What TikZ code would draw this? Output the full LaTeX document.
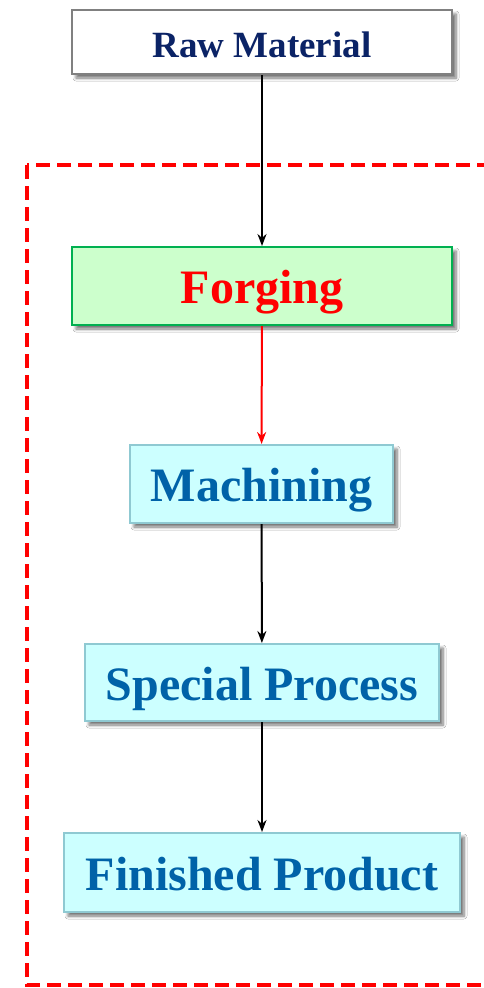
\documentclass[tikz,border=0pt]{standalone}
\usepackage{fontspec}
\setmainfont{Liberation Serif}
\usetikzlibrary{shadows.blur,arrows.meta}
\definecolor{navy}{HTML}{0B2366}
\definecolor{boxblue}{HTML}{0062A8}
\definecolor{cyanfill}{HTML}{CCFFFF}
\definecolor{cyanborder}{HTML}{8FC9D2}
\definecolor{greenfill}{HTML}{CCFFCC}
\definecolor{greenborder}{HTML}{00B050}
\tikzset{
  procbox/.style={draw, line width=2pt, inner sep=0pt, font=\bfseries\fontsize{48}{50}\selectfont,
    text height=35pt, text depth=0pt,
    blur shadow={shadow xshift=4pt, shadow yshift=-4pt, shadow blur radius=3pt, shadow blur steps=6, shadow opacity=55}},
  cyanbox/.style={procbox, fill=cyanfill, draw=cyanborder, text=boxblue},
  conn/.style={line width=2pt, -{Stealth[length=12pt,width=9pt]}},
}
\begin{document}
\begin{tikzpicture}[x=1pt,y=-1pt]
\useasboundingbox (0,0) rectangle (483,988);
\fill[white] (0,0) rectangle (483,988);
\draw[red, line width=4.5pt, dash pattern=on 14pt off 7pt] (27,165) rectangle (510,985);
\node[procbox, fill=white, draw=gray, text=navy, font=\bfseries\fontsize{37}{40}\selectfont,
  text height=30pt, minimum width=380pt, minimum height=64pt] (raw) at (262,42) {Raw Material};
\node[procbox, fill=greenfill, draw=greenborder, text=red,
  minimum width=380pt, minimum height=78pt] (forg) at (262,286) {Forging};
\node[cyanbox, minimum width=263pt, minimum height=78pt] (mach) at (261.5,484) {Machining};
\node[cyanbox, minimum width=354pt, minimum height=77pt] (spec) at (262,682.5) {Special Process};
\node[cyanbox, minimum width=396pt, minimum height=79pt] (fin) at (262,872.5) {Finished Product};
\draw[conn] (raw) -- (forg);
\draw[conn, red] (forg) -- (mach);
\draw[conn] (mach) -- (spec);
\draw[conn] (spec) -- (fin);
\end{tikzpicture}
\end{document}
